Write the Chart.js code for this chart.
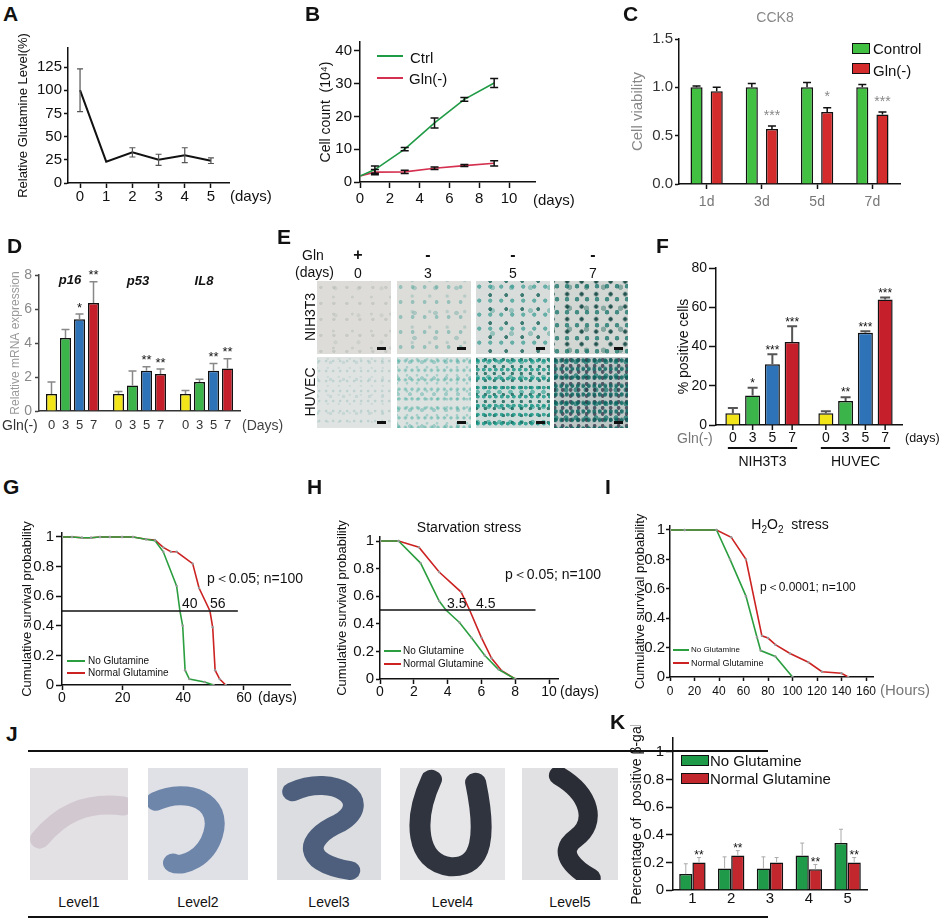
<!DOCTYPE html>
<html>
<head>
<meta charset="utf-8">
<script src="https://cdn.jsdelivr.net/npm/chart.js@4.4.1/dist/chart.umd.min.js"></script>
<style>
  body { margin: 0; background: #fff; }
  #fig { position: relative; width: 941px; height: 922px; overflow: hidden; font-family: 'Liberation Sans', Arial, sans-serif; color: #111; }
  .t { position: absolute; white-space: nowrap; line-height: 1; }
  .b { position: absolute; }
</style>
</head>
<body>
<div id="fig"></div>
<script>
// ---- A: relative glutamine level in medium
const aDays = [0, 1, 2, 3, 4, 5];
const aLevel = [100, 23, 33, 25, 30, 24];
const aErr = [23, 0, 5, 6, 8, 3];
const aYTicks = [0, 25, 50, 75, 100, 125];

// ---- B: cell count (10^4)
const bDays = [0, 1, 3, 5, 7, 9];
const bCtrl = [1.8, 3.8, 10, 18, 25.2, 30.2];
const bCtrlErr = [0, 1.1, 0.5, 1.5, 0.6, 1.4];
const bGln = [1.8, 3, 3.1, 4.2, 5, 5.7];
const bGlnErr = [0, 0.8, 0.5, 0.4, 0.3, 0.8];
const bXTicks = [0, 2, 4, 6, 8, 10];
const bYTicks = [0, 10, 20, 30, 40];

// ---- C: CCK8
const cDays = ['1d', '3d', '5d', '7d'];
const cControl = [1.0, 1.0, 1.0, 1.0];
const cControlErr = [0.015, 0.04, 0.05, 0.03];
const cGln = [0.96, 0.57, 0.745, 0.72];
const cGlnErr = [0.04, 0.03, 0.045, 0.025];
const cStars = ['', '***', '*', '***'];
const cYTicks = [0, 0.5, 1.0, 1.5];

// ---- D: relative mRNA expression (one array per day of Gln(-))
const dGenes = ['p16', 'p53', 'IL8'];
const dDays = ['0', '3', '5', '7'];
const dDay0 = [1.0, 1.0, 1.0];
const dDay0Err = [0.7, 0.15, 0.2];
const dDay3 = [4.3, 1.5, 1.7];
const dDay3Err = [0.5, 0.85, 0.17];
const dDay5 = [5.4, 2.37, 2.37];
const dDay5Err = [0.3, 0.23, 0.43];
const dDay7 = [6.35, 2.18, 2.5];
const dDay7Err = [1.25, 0.29, 0.58];
const dStars5 = ['*', '**', '**'];
const dStars7 = ['**', '**', '**'];
const dYTicks = [0, 2, 4, 6, 8];

// ---- F: % positive cells
const fLines = ['NIH3T3', 'HUVEC'];
const fDays = ['0', '3', '5', '7'];
const fDay0 = [6, 6];
const fDay0Err = [2.7, 1];
const fDay3 = [15, 12.2];
const fDay3Err = [4, 2];
const fDay5 = [31, 47];
const fDay5Err = [5, 0.8];
const fDay7 = [42.3, 64];
const fDay7Err = [8, 1];
const fStars3 = ['*', '**'];
const fStars5 = ['***', '***'];
const fStars7 = ['***', '***'];
const fYTicks = [0, 20, 40, 60, 80];

// ---- G: lifespan
const gNoGlnDays = [0, 3.3, 6.6, 9.6, 12.5, 15.8, 19.8, 23.4, 27.7, 30.7, 33.4, 37.8, 38.9, 39.8, 40.6, 42, 47, 50];
const gNoGln = [1, 1, 0.995, 0.995, 1, 1, 1, 1, 0.985, 0.975, 0.9, 0.67, 0.5, 0.4, 0.1, 0.04, 0.02, 0];
const gNormalDays = [0, 3.3, 6.6, 9.6, 12.5, 15.8, 19.8, 23.4, 27.7, 30.7, 33.4, 35.9, 37.8, 43.1, 45.2, 48.8, 49.7, 50.5, 52, 54];
const gNormal = [1, 1, 0.995, 0.995, 1, 1, 1, 1, 0.985, 0.98, 0.93, 0.9, 0.9, 0.82, 0.655, 0.5, 0.39, 0.1, 0.04, 0];
const gHalfDays = [0, 58];
const gHalf = [0.5, 0.5];
const gXTicks = [0, 20, 40, 60];

// ---- H: starvation stress
const hNoGlnDays = [0, 1.1, 2.4, 3.5, 3.9, 4.7, 5.4, 6.2, 7, 8];
const hNoGln = [1, 1, 0.84, 0.565, 0.5, 0.41, 0.3, 0.17, 0.07, 0];
const hNormalDays = [0, 1.1, 2.3, 3.5, 4.8, 5.3, 6.0, 6.6, 7.2, 8];
const hNormal = [1, 1, 0.955, 0.775, 0.63, 0.5, 0.3, 0.15, 0.06, 0];
const hHalfDays = [0, 9.2];
const hHalf = [0.5, 0.5];
const hXTicks = [0, 2, 4, 6, 8, 10];

// ---- I: H2O2 stress
const iNoGlnHours = [0, 12, 38, 49, 62, 71, 74, 86, 100];
const iNoGln = [1, 1, 1, 0.8, 0.55, 0.27, 0.18, 0.14, 0];
const iNormalHours = [0, 12, 38, 50, 62, 75, 80, 86, 98, 113, 124, 140, 145.5];
const iNormal = [1, 1, 1, 0.95, 0.8, 0.28, 0.265, 0.22, 0.16, 0.1, 0.036, 0.025, 0];
const iXTicks = [0, 20, 40, 60, 80, 100, 120, 140, 160];

const survTicks = [0, 0.2, 0.4, 0.6, 0.8, 1];

// ---- K: positive beta-gal per level
const kLevels = ['1', '2', '3', '4', '5'];
const kNoGln = [0.115, 0.155, 0.155, 0.25, 0.34];
const kNoGlnErr = [0.075, 0.085, 0.085, 0.09, 0.1];
const kNormal = [0.2, 0.25, 0.2, 0.15, 0.2];
const kNormalErr = [0.035, 0.035, 0.035, 0.035, 0.035];
const kStars = ['**', '**', '', '**', '**'];
const kYTicks = [0, 0.2, 0.4, 0.6, 0.8, 1];

const FONT = "'Liberation Sans', Arial, sans-serif";
Chart.defaults.font.family = FONT;
Chart.defaults.color = '#111';
Chart.defaults.animation = false;
Chart.defaults.events = [];
Chart.defaults.plugins.legend.display = false;
Chart.defaults.plugins.tooltip.enabled = false;

const fig = document.getElementById('fig');

// error bars drawn from the dataset's own values
const errorBars = {
  id: 'errorBars',
  afterDatasetsDraw(chart) {
    const ctx = chart.ctx, ys = chart.scales.y;
    chart.data.datasets.forEach((ds, di) => {
      if (!ds.errs) return;
      chart.getDatasetMeta(di).data.forEach((el, i) => {
        const e = ds.errs[i];
        if (!e) return;
        const v = typeof ds.data[i] === 'object' ? ds.data[i].y : ds.data[i];
        const top = ys.getPixelForValue(v + e);
        const bot = ds.errBoth ? ys.getPixelForValue(v - e) : el.y;
        const cap = ds.errCap == null ? 4 : ds.errCap;
        ctx.save();
        ctx.strokeStyle = ds.errColor || '#111';
        ctx.lineWidth = ds.errWidth || 1.5;
        ctx.beginPath();
        ctx.moveTo(el.x, bot); ctx.lineTo(el.x, top);
        ctx.moveTo(el.x - cap, top); ctx.lineTo(el.x + cap, top);
        if (ds.errBoth) { ctx.moveTo(el.x - cap, bot); ctx.lineTo(el.x + cap, bot); }
        ctx.stroke();
        ctx.restore();
      });
    });
  }
};

// significance stars above each bar's error bar
const starMarks = {
  id: 'starMarks',
  afterDatasetsDraw(chart, args, opts) {
    const ctx = chart.ctx, ys = chart.scales.y;
    chart.data.datasets.forEach((ds, di) => {
      if (!ds.stars) return;
      chart.getDatasetMeta(di).data.forEach((el, i) => {
        if (!ds.stars[i]) return;
        const v = ds.data[i] + (ds.errs ? ds.errs[i] : 0);
        ctx.save();
        ctx.font = `${opts.size || 13}px ${FONT}`;
        ctx.fillStyle = opts.color || '#111';
        ctx.textAlign = 'center';
        ctx.textBaseline = 'middle';
        ctx.fillText(ds.stars[i], el.x, ys.getPixelForValue(v) - (opts.lift || 5));
        ctx.restore();
      });
    });
  }
};

// per-bar day labels under grouped bars
const dayTicks = {
  id: 'dayTicks',
  afterDraw(chart, args, opts) {
    if (!opts.labels) return;
    const { ctx, chartArea } = chart;
    const metas = chart.data.datasets.map((ds, di) => chart.getDatasetMeta(di));
    ctx.save();
    ctx.font = `${opts.size || 13}px ${FONT}`;
    ctx.fillStyle = opts.color || '#111';
    ctx.strokeStyle = '#111';
    ctx.textAlign = 'center';
    ctx.textBaseline = 'middle';
    metas.forEach((meta, di) => {
      meta.data.forEach(el => {
        ctx.fillText(opts.labels[di], el.x, chartArea.bottom + opts.dy);
        if (opts.marks) {
          ctx.lineWidth = 1.5;
          ctx.beginPath();
          ctx.moveTo(el.x, chartArea.bottom);
          ctx.lineTo(el.x, chartArea.bottom + opts.marks);
          ctx.stroke();
        }
      });
    });
    if (opts.underline) {
      ctx.lineWidth = 2;
      metas[0].data.forEach((el, i) => {
        const last = metas[metas.length - 1].data[i];
        ctx.beginPath();
        ctx.moveTo(el.x - 5, chartArea.bottom + opts.underline);
        ctx.lineTo(last.x + 5, chartArea.bottom + opts.underline);
        ctx.stroke();
      });
    }
    ctx.restore();
  }
};

Chart.register(errorBars, starMarks, dayTicks);

function pts(xs, ys) {
  return xs.map((x, i) => ({ x: x, y: ys[i] }));
}

function linScale(min, max, ticks, o) {
  o = o || {};
  return {
    type: 'linear', min: min, max: max, bounds: 'data',
    afterBuildTicks: s => { s.ticks = ticks.map(v => ({ value: v })); },
    border: { display: true, color: o.line || '#111', width: o.lw || 1.5 },
    grid: { drawOnChartArea: false, drawTicks: o.tl !== 0, tickLength: o.tl == null ? 5 : o.tl, tickColor: o.line || '#111', tickWidth: o.lw || 1.5 },
    ticks: { autoSkip: false, maxRotation: 0, padding: o.pad == null ? 2 : o.pad, color: o.color || '#111',
             font: { size: o.size || 14, lineHeight: 1 }, callback: o.fmt || (v => String(v)) },
    title: o.title ? { display: true, text: o.title, color: o.tcolor || '#111', font: { size: o.tsize || 14 }, padding: 0 } : { display: false }
  };
}

function catScale(o) {
  o = o || {};
  return {
    type: 'category', offset: true,
    border: { display: true, color: o.line || '#111', width: 1.5 },
    grid: { drawOnChartArea: false, drawTicks: !!o.tl, tickLength: o.tl || 0, offset: false, tickColor: '#111', tickWidth: 1.5 },
    ticks: { display: o.show !== false, autoSkip: false, maxRotation: 0, padding: o.pad == null ? 2 : o.pad,
             color: o.color || '#111', font: { size: o.size || 14, lineHeight: 1 } }
  };
}

// canvas placed at box [x,y,w,h]; plot area fixed at area [x0,y0,x1,y1]; y scale starts at yLeft
function chartAt(box, area, yLeft, xH, config) {
  const holder = document.createElement('div');
  holder.className = 'b';
  holder.style.left = box[0] + 'px';
  holder.style.top = box[1] + 'px';
  holder.style.width = box[2] + 'px';
  holder.style.height = box[3] + 'px';
  const cv = document.createElement('canvas');
  holder.appendChild(cv);
  fig.appendChild(holder);
  const yW = area[0] - yLeft;
  config.options.maintainAspectRatio = false;
  config.options.layout = { padding: {
    left: yLeft - box[0], top: area[1] - box[1],
    right: box[0] + box[2] - area[2], bottom: box[1] + box[3] - area[3] - xH } };
  config.options.scales.x.afterFit = s => { s.height = xH; };
  config.options.scales.y.afterFit = s => { s.width = yW; };
  return new Chart(cv, config);
}

function txt(s, x, y, o) {
  o = o || {};
  const d = document.createElement('div');
  d.className = 't';
  d.innerHTML = s;
  d.style.left = x + 'px';
  d.style.top = y + 'px';
  d.style.fontSize = (o.size || 14) + 'px';
  if (o.color) d.style.color = o.color;
  if (o.bold) d.style.fontWeight = 'bold';
  if (o.italic) d.style.fontStyle = 'italic';
  const ax = o.align === 'c' ? '-50%' : (o.align === 'r' ? '-100%' : '0');
  d.style.transform = `translate(${ax},-50%)` + (o.rot ? ` rotate(${o.rot}deg)` : '');
  fig.appendChild(d);
  return d;
}

function rect(x, y, w, h, css) {
  const d = document.createElement('div');
  d.className = 'b';
  d.style.cssText += `left:${x}px;top:${y}px;width:${w}px;height:${h}px;` + (css || '');
  fig.appendChild(d);
  return d;
}

function bars(vals, errs, stars, color, extra) {
  return Object.assign({ data: vals, errs: errs, stars: stars, backgroundColor: color }, extra || {});
}

function survival(xs, ys, color) {
  return { data: pts(xs, ys), borderColor: color, borderWidth: 1.6, pointRadius: 1.2,
           pointBackgroundColor: '#999', pointBorderWidth: 0, tension: 0 };
}

function halfLine(xs, ys) {
  return { data: pts(xs, ys), borderColor: '#111', borderWidth: 1.5, pointRadius: 0 };
}

const GREEN = '#2b9e3f', RED = '#cc2222';

// ---------------- A
chartAt([0, 28, 300, 180], [68, 48, 229, 183], 16, 22, {
  type: 'line',
  data: { datasets: [{ data: pts(aDays, aLevel), errs: aErr, errBoth: true, errColor: '#555', errWidth: 1.2, errCap: 3,
                       borderColor: '#111', borderWidth: 2, pointRadius: 0, tension: 0 }] },
  options: { scales: {
    x: linScale(-0.46, 5.69, aDays, { tl: 5, pad: 1, size: 15 }),
    y: linScale(0, 145.5, aYTicks, { tl: 4, pad: 2, size: 15, title: 'Relative Glutamine Level(%)', tsize: 13 })
  } }
});
txt('(days)', 230, 195, { size: 15 });

// ---------------- B
chartAt([300, 28, 320, 182], [360, 42, 535, 182], 318, 24, {
  type: 'line',
  data: { datasets: [
    { data: pts(bDays, bCtrl), errs: bCtrlErr, errBoth: true, errCap: 4, borderColor: '#1f9a45', borderWidth: 1.6, pointRadius: 0 },
    { data: pts(bDays, bGln), errs: bGlnErr, errBoth: true, errCap: 4, borderColor: '#d5304f', borderWidth: 1.6, pointRadius: 0 }
  ] },
  options: { scales: {
    x: linScale(0, 11.74, bXTicks, { tl: 6, pad: 3, size: 15 }),
    y: linScale(0, 42.7, bYTicks, { tl: 6, pad: 2, size: 15, title: 'Cell count  (10⁴)', tsize: 14 })
  } }
});
rect(377, 55, 26, 2, 'background:#1f9a45');
rect(377, 77, 26, 2, 'background:#d5304f');
txt('Ctrl', 410, 57, { size: 15 });
txt('Gln(-)', 409, 78, { size: 15 });
txt('(days)', 533, 199, { size: 15 });

// ---------------- C
chartAt([620, 0, 321, 215], [679, 39, 900, 184], 629, 26, {
  type: 'bar',
  data: { labels: cDays, datasets: [
    bars(cControl, cControlErr, null, '#41c041'),
    bars(cGln, cGlnErr, cStars, '#d42c2c')
  ] },
  options: {
    datasets: { bar: { categoryPercentage: 0.73, barPercentage: 0.6, borderColor: '#111', borderWidth: 1.5 } },
    plugins: { starMarks: { color: '#888', size: 14, lift: 10 } },
    scales: {
      x: catScale({ tl: 5, pad: 6, size: 14, color: '#777' }),
      y: linScale(0, 1.5, cYTicks, { tl: 4, pad: 2, size: 15, color: '#333', fmt: v => v.toFixed(1),
                                     title: 'Cell viability', tsize: 15, tcolor: '#888' })
    }
  }
});
txt('CCK8', 775, 17, { size: 14, color: '#888', align: 'c' });
rect(852, 43, 16, 9, 'background:#41c041;border:1.5px solid #111');
rect(852, 63, 16, 9, 'background:#d42c2c;border:1.5px solid #111');
txt('Control', 873, 48, { size: 15 });
txt(' Gln(-)', 873, 70, { size: 15 });

// ---------------- D
chartAt([0, 255, 245, 185], [39, 275, 240, 411], 8, 2, {
  type: 'bar',
  data: { labels: dGenes, datasets: [
    bars(dDay0, dDay0Err, null, '#f2e61b', { errColor: '#888' }),
    bars(dDay3, dDay3Err, null, '#3bb44a', { errColor: '#888' }),
    bars(dDay5, dDay5Err, dStars5, '#2e73b8', { errColor: '#888' }),
    bars(dDay7, dDay7Err, dStars7, '#c41f2b', { errColor: '#888' })
  ] },
  options: {
    datasets: { bar: { categoryPercentage: 0.836, barPercentage: 0.79, borderColor: '#111', borderWidth: 1.5 } },
    plugins: { starMarks: { size: 13, lift: 6 }, dayTicks: { labels: dDays, dy: 14, size: 13, color: '#333' } },
    scales: {
      x: catScale({ show: false, line: '#333' }),
      y: linScale(0, 8, dYTicks, { tl: 4, pad: 3, size: 14, color: '#888', line: '#444',
                                   title: 'Relative mRNA expression', tsize: 12, tcolor: '#999' })
    }
  }
});
txt('p16', 70, 279, { size: 13, bold: true, italic: true, align: 'c' });
txt('p53', 138, 280, { size: 13, bold: true, italic: true, align: 'c' });
txt('IL8', 204, 280, { size: 13, bold: true, italic: true, align: 'c' });
txt('Gln(-)', 2, 425, { size: 14, color: '#333' });
txt('(Days)', 242, 425, { size: 14, color: '#444' });

// ---------------- E (stained cell photos)
const eCols = [317, 397, 476, 554];
const eRows = [281, 357];
const eLook = [
  ['#dddcd9', 'rgba(150,160,150,.30)', 'rgba(130,150,140,.22)', 'rgba(120,140,130,.15)', 1.4],
  ['#dcdcd9', 'rgba(80,165,155,.50)', 'rgba(110,170,160,.35)', 'rgba(60,150,140,.30)', 1.6],
  ['#d8dcda', 'rgba(40,150,140,.65)', 'rgba(10,90,80,.75)', 'rgba(70,160,150,.45)', 1.8],
  ['#d2d7d4', 'rgba(20,115,105,.75)', 'rgba(5,60,55,.85)', 'rgba(60,120,110,.5)', 2.0],
  ['#dfe3e2', 'rgba(140,185,180,.40)', 'rgba(160,195,190,.30)', 'rgba(130,180,175,.25)', 1.1],
  ['#dbe2e0', 'rgba(60,170,155,.55)', 'rgba(90,180,170,.40)', 'rgba(50,160,150,.35)', 1.3],
  ['#d0dcd9', 'rgba(20,150,135,.80)', 'rgba(10,90,80,.75)', 'rgba(40,160,145,.6)', 1.6],
  ['#bcc7c6', 'rgba(10,100,95,.85)', 'rgba(40,40,60,.7)', 'rgba(20,120,110,.7)', 1.8]
];
eRows.forEach((y, r) => {
  eCols.forEach((x, c) => {
    const L = eLook[r * 4 + c], s = L[4];
    const g = r ? [7 - c * 0.5, 11 - c, 13 - c] : [13 - c, 19 - c * 1.5, 23 - c * 2];
    rect(x, y, 74, r ? 71 : 73,
      `background:radial-gradient(circle at 30% 40%, ${L[1]} 0 ${s}px, transparent ${s + 0.6}px) 0 0/${g[0]}px ${g[0] + 3}px,` +
      `radial-gradient(circle at 70% 65%, ${L[2]} 0 ${s - 0.2}px, transparent ${s + 0.4}px) 3px 5px/${g[1]}px ${g[1] - 2}px,` +
      `radial-gradient(circle at 50% 20%, ${L[3]} 0 ${s + 0.4}px, transparent ${s + 1}px) 7px 2px/${g[2]}px ${g[2] + 4}px, ${L[0]};`);
    rect(x + 60, y + (r ? 64 : 66), 9, 2.5, 'background:#111');
  });
});
txt('E', 277, 236, { size: 21, bold: true });
txt('Gln', 302, 255, { size: 14 });
txt('(days)', 295, 272, { size: 14 });
txt('+', 358, 255, { size: 16, bold: true, align: 'c' });
[428, 513, 593].forEach(x => txt('-', x, 255, { size: 16, bold: true, align: 'c' }));
[['0', 358], ['3', 428], ['5', 513], ['7', 593]].forEach(p => txt(p[0], p[1], 273, { size: 14, align: 'c' }));
txt('NIH3T3', 310, 317, { size: 14, align: 'c', rot: -90 });
txt('HUVEC', 310, 392, { size: 14, align: 'c', rot: -90 });

// ---------------- F
chartAt([620, 250, 321, 225], [716, 268, 902, 425], 676, 45, {
  type: 'bar',
  data: { labels: fLines, datasets: [
    bars(fDay0, fDay0Err, null, '#f2e61b', { errColor: '#555', errWidth: 2, errCap: 5 }),
    bars(fDay3, fDay3Err, fStars3, '#3bb44a', { errColor: '#555', errWidth: 2, errCap: 5 }),
    bars(fDay5, fDay5Err, fStars5, '#2e73b8', { errColor: '#555', errWidth: 2, errCap: 5 }),
    bars(fDay7, fDay7Err, fStars7, '#c41f2b', { errColor: '#555', errWidth: 2, errCap: 5 })
  ] },
  options: {
    datasets: { bar: { categoryPercentage: 0.85, barPercentage: 0.76, borderColor: '#111', borderWidth: 1.5 } },
    plugins: { starMarks: { size: 12, lift: 4 }, dayTicks: { labels: fDays, dy: 13, size: 14, marks: 5, underline: 23 } },
    scales: {
      x: catScale({ pad: 30, size: 14 }),
      y: linScale(0, 80, fYTicks, { tl: 7, pad: 2, size: 14, title: '% positive cells', tsize: 14 })
    }
  }
});
txt('Gln(-)', 677, 438, { size: 14, color: '#777' });
txt('(days)', 905, 438, { size: 12.5 });

// ---------------- G
chartAt([0, 500, 300, 210], [62, 533, 290, 685], 20, 22, {
  type: 'line',
  data: { datasets: [
    halfLine(gHalfDays, gHalf),
    survival(gNoGlnDays, gNoGln, GREEN),
    survival(gNormalDays, gNormal, RED)
  ] },
  options: { scales: {
    x: linScale(0, 75.2, gXTicks, { tl: 5, pad: 1, size: 14 }),
    y: linScale(0, 1.027, survTicks, { tl: 6, pad: 2, size: 15, title: 'Cumulative survival probability', tsize: 13 })
  } }
});
txt('p＜0.05; n=100', 207, 578, { size: 14 });
txt('40', 182, 603, { size: 14 });
txt('56', 210, 603, { size: 14 });
rect(67, 660, 18, 1.6, 'background:' + GREEN);
rect(67, 672, 18, 1.6, 'background:' + RED);
txt('No Glutamine', 88, 661, { size: 10 });
txt('Normal Glutamine', 88, 673, { size: 10 });
txt('(days)', 258, 697, { size: 14 });

// ---------------- H
chartAt([300, 500, 320, 210], [380, 537, 558, 679], 335, 22, {
  type: 'line',
  data: { datasets: [
    halfLine(hHalfDays, hHalf),
    survival(hNoGlnDays, hNoGln, GREEN),
    survival(hNormalDays, hNormal, RED)
  ] },
  options: { scales: {
    x: linScale(0, 10.53, hXTicks, { tl: 5, pad: 1, size: 14 }),
    y: linScale(0, 1.029, survTicks, { tl: 4, pad: 2, size: 15, title: 'Cumulative survival probability', tsize: 13 })
  } }
});
txt('Starvation stress', 469, 527, { size: 14, align: 'c' });
txt('p＜0.05; n=100', 505, 574, { size: 14 });
txt('3.5', 447, 603, { size: 14 });
txt('4.5', 476, 603, { size: 14 });
txt('(days)', 560, 691, { size: 14 });
rect(384, 650, 17, 1.6, 'background:' + GREEN);
rect(384, 663, 17, 1.6, 'background:' + RED);
txt('No Glutamine', 403, 651, { size: 10 });
txt('Normal Glutamine', 403, 664, { size: 10 });

// ---------------- I
chartAt([620, 500, 321, 210], [670, 526, 873, 677], 633, 22, {
  type: 'line',
  data: { datasets: [
    survival(iNoGlnHours, iNoGln, GREEN),
    survival(iNormalHours, iNormal, RED)
  ] },
  options: { scales: {
    x: linScale(0, 165.7, iXTicks, { tl: 4, pad: 5, size: 12 }),
    y: linScale(0, 1.027, survTicks, { tl: 4, pad: 1, size: 15, title: 'Cumulative survival probability', tsize: 13 })
  } }
});
txt('H<sub style="font-size:10px">2</sub>O<sub style="font-size:10px">2</sub>&nbsp; stress', 790, 526, { size: 14, align: 'c' });
txt('p＜0.0001; n=100', 760, 587, { size: 12 });
txt('(Hours)', 880, 689, { size: 15, color: '#777' });
rect(673, 649, 16, 1.5, 'background:' + GREEN);
rect(673, 662, 16, 1.5, 'background:' + RED);
txt('No Glutamine', 691, 650, { size: 8 });
txt('Normal Glutamine', 691, 663, { size: 9 });

// ---------------- J (stained gut photos)
rect(28, 750, 740, 2, 'background:#111');
rect(28, 916, 740, 2, 'background:#111');
const jBoxes = [[30, 98], [148, 100], [277, 104], [400, 105], [522, 96]];
const jLook = [
  ['#e3e1e4', '#d2c8d0', 'M10,75 C30,50 55,35 95,40'],
  ['#e0e1e6', '#6f86ab', 'M8,35 C40,20 75,35 65,70 C58,95 35,105 25,100'],
  ['#dcdde0', '#4d5f7c', 'M15,25 C55,5 95,35 60,58 C25,75 25,100 70,108'],
  ['#e6e6e8', '#30343f', 'M30,12 C12,55 15,100 48,104 C80,106 82,68 72,15'],
  ['#e1e1e3', '#2b2d36', 'M38,8 C72,28 78,58 56,74 C34,90 58,108 72,116']
];
const jNames = ['Level1', 'Level2', 'Level3', 'Level4', 'Level5'];
jBoxes.forEach((b, i) => {
  const d = rect(b[0], 768, b[1], 112, 'background:' + jLook[i][0]);
  d.innerHTML = `<svg width="${b[1]}" height="112" viewBox="0 0 100 118" preserveAspectRatio="none">` +
    `<path d="${jLook[i][2]}" fill="none" stroke="${jLook[i][1]}" stroke-width="20" stroke-linecap="round"/></svg>`;
  txt(jNames[i], b[0] + b[1] / 2, 902, { size: 14, align: 'c' });
});

// ---------------- K
chartAt([620, 725, 321, 197], [673, 738, 867, 890], 629, 20, {
  type: 'bar',
  data: { labels: kLevels, datasets: [
    bars(kNoGln, kNoGlnErr, null, '#1f9a48', { errColor: '#aaa', errWidth: 1, errCap: 2 }),
    bars(kNormal, kNormalErr, kStars, '#c1272d', { errColor: '#aaa', errWidth: 1, errCap: 2 })
  ] },
  options: {
    datasets: { bar: { categoryPercentage: 0.68, barPercentage: 1.0, borderColor: '#111', borderWidth: 1.5 } },
    plugins: { starMarks: { size: 12, lift: 2 } },
    scales: {
      x: catScale({ pad: 1, size: 15 }),
      y: linScale(0, 1.101, kYTicks, { tl: 7, pad: 2, size: 15, title: 'Percentage of   positive β-gal', tsize: 14 })
    }
  }
});
rect(681, 755, 26, 9, 'background:#1f9a48;border:1.5px solid #111');
rect(681, 773, 26, 9, 'background:#c1272d;border:1.5px solid #111');
txt('No Glutamine', 710, 760, { size: 15 });
txt('Normal Glutamine', 710, 778, { size: 15 });

// ---------------- panel letters
[['A', 3, 13], ['B', 305, 13], ['C', 623, 13], ['D', 7, 245], ['F', 656, 245],
 ['G', 3, 486], ['H', 307, 486], ['I', 605, 486], ['J', 6, 733], ['K', 610, 721]]
  .forEach(p => txt(p[0], p[1], p[2], { size: 21, bold: true }));
</script>
</body>
</html>
